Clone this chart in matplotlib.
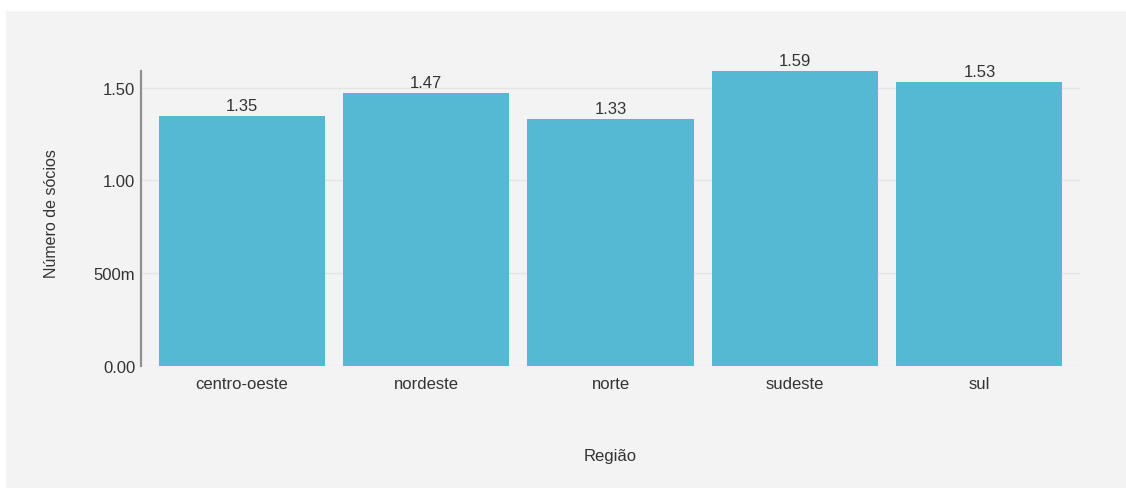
import matplotlib.pyplot as plt
from matplotlib.patches import Rectangle

regioes = ['centro-oeste', 'nordeste', 'norte', 'sudeste', 'sul']
socios = [1.35, 1.47, 1.33, 1.59, 1.53]
yticks = [0.0, 0.5, 1.0, 1.5]
ytick_labels = ['0.00', '500m', '1.00', '1.50']

plt.rcParams['font.family'] = ['Liberation Sans', 'DejaVu Sans']

fig = plt.figure(figsize=(11.26, 4.89), dpi=100, facecolor='white')
# light gray panel behind the chart
fig.patches.append(Rectangle((6 / 1126, 0), 1, 1 - 12 / 489, transform=fig.transFigure,
                             facecolor='#f3f3f3', edgecolor='none', zorder=-1))

ax = fig.add_axes([141 / 1126, 1 - 367 / 489, (1080 - 141) / 1126, (367 - 72) / 489])
ax.set_facecolor('#f3f3f3')

x = range(len(regioes))
bars = ax.bar(x, socios, width=0.9, color='#55b9d3', zorder=2)
for b, v in zip(bars, socios):
    ax.annotate(f'{v:.2f}', (b.get_x() + b.get_width() / 2, v), textcoords='offset points',
                xytext=(0, 2), ha='center', va='bottom', fontsize=12, color='#333333')

ax.set_xlim(-0.545, 4.545)
ax.set_ylim(0, max(socios))
ax.set_xticks(list(x))
ax.set_xticklabels(regioes)
ax.set_yticks(yticks)
ax.set_yticklabels(ytick_labels)
ax.tick_params(axis='both', length=0, labelsize=12, labelcolor='#333333')
ax.tick_params(axis='x', pad=7)
ax.tick_params(axis='y', pad=4)
ax.grid(axis='y', color='#e4e4e4', linewidth=1, zorder=0)

for s in ['top', 'right', 'bottom']:
    ax.spines[s].set_visible(False)
ax.spines['left'].set_color('#8f8f8f')
ax.spines['left'].set_linewidth(1.6)

ax.set_xlabel('Região', fontsize=12, color='#333333', labelpad=41)
ax.set_ylabel('Número de sócios', fontsize=11.5, color='#333333')
ax.yaxis.set_label_coords(-0.087, 0.52)

fig.savefig('out.png', dpi=100, facecolor=fig.get_facecolor())
